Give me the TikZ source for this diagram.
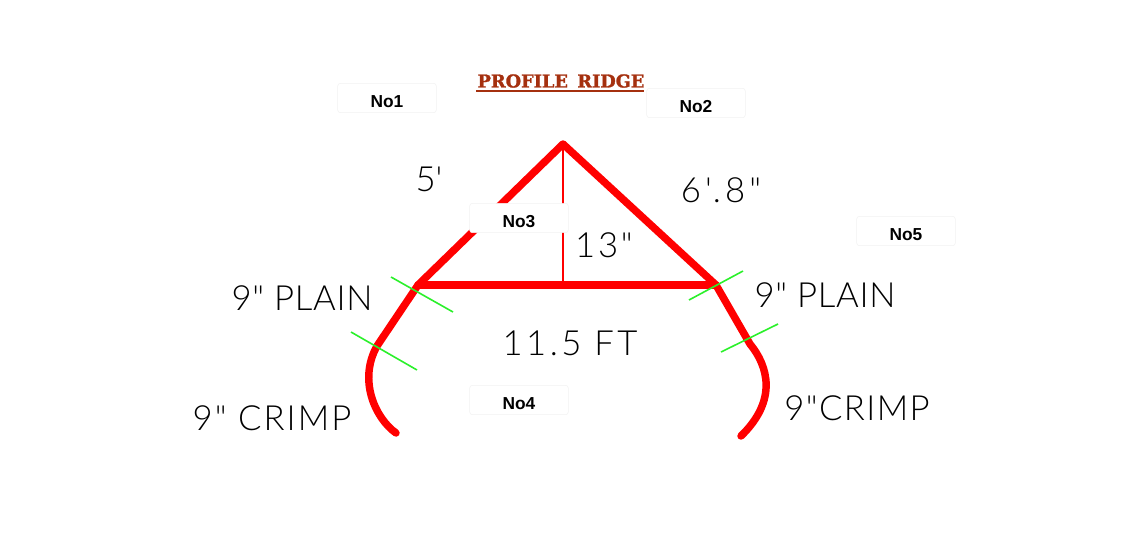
\documentclass[tikz,border=0pt]{standalone}
\usepackage{fontspec}
\setmainfont{Liberation Sans}
\newfontfamily\handfont{Lato Light}
\newfontfamily\titlefont[FakeBold=1.5]{DejaVu Serif Bold}
\definecolor{titlebrown}{HTML}{A5300F}
\definecolor{tickgreen}{HTML}{2BF02B}
\tikzset{
	profile/.style = {draw=red, line width=5.6pt, line cap=round, line join=round},
	brace/.style   = {draw=red, line width=1.3pt},
	tick/.style    = {draw=tickgreen, line width=1.2pt},
	nobox/.style   = {draw=black!5, fill=white, rounded corners=2pt, minimum width=74pt, minimum height=22pt, inner sep=0pt, text height=13.5pt, text depth=0pt, font=\fontsize{13}{14}\selectfont\bfseries},
	dim/.style     = {font=\fontsize{26}{28}\selectfont\handfont, text=black, inner sep=0pt},
	spaced/.style  = {execute at begin node=\addfontfeature{LetterSpace=#1}}
}
\begin{document}
\begin{tikzpicture}[x=0.75pt, y=-0.75pt]
	\useasboundingbox (0,0) rectangle (1138,544);
	% profile points
	\coordinate (apex)   at (563,144);
	\coordinate (baseL)  at (418,285);
	\coordinate (baseR)  at (716,285);
	\coordinate (baseM)  at (563,285);
	\coordinate (lowL)   at (377,346);
	\coordinate (lowR)   at (750,344);
	\coordinate (endL)   at (396,433);
	\coordinate (endR)   at (741,436);
	\draw [brace]   (apex) -- (baseM);
	\draw [profile] (endL) .. controls (375,418) and (358,380) .. (lowL) -- (baseL) -- (apex) -- (baseR) -- (lowR) .. controls (768,366) and (778,400) .. (endR);
	\draw [profile] (baseL) -- (baseR);
	% ticks
	\coordinate (t1a) at (391,277); \coordinate (t1b) at (453,312);
	\coordinate (t2a) at (351,332); \coordinate (t2b) at (417,370);
	\coordinate (t3a) at (689,300); \coordinate (t3b) at (743,271);
	\coordinate (t4a) at (721,352); \coordinate (t4b) at (778,324);
	\draw [tick] (t1a) -- (t1b);
	\draw [tick] (t2a) -- (t2b);
	\draw [tick] (t3a) -- (t3b);
	\draw [tick] (t4a) -- (t4b);
	% title
	\node (title) [inner sep=0pt, text=titlebrown, font=\fontsize{13.3}{16}\selectfont\titlefont] at (561,81) {PROFILE\hspace{7pt}RIDGE};
	\draw [titlebrown, line width=0.9pt] (476,91) -- (644,91);
	% boxes
	\node (no1) [nobox] at (387,98)  {No1};
	\node (no2) [nobox] at (696,103) {No2};
	\node (no3) [nobox] at (519,218) {No3};
	\node (no4) [nobox] at (519,400) {No4};
	\node (no5) [nobox] at (906,231) {No5};
	% sizes
	\node (side1)  [dim] at (429,179) {5'};
	\node (side2)  [dim, spaced=12] at (721,190) {6'.8"};
	\node (rise)   [dim, spaced=8] at (604,245) {13"};
	\node (plainL) [dim, spaced=2] at (302,298) {9" PLAIN};
	\node (plainR) [dim, spaced=2] at (825,295) {9" PLAIN};
	\node (width)  [dim, spaced=10] at (570,343) {11.5 FT};
	\node (crimpL) [dim, spaced=6] at (272,418) {9" CRIMP};
	\node (crimpR) [dim, spaced=4] at (857,408) {9"CRIMP};
\end{tikzpicture}
\end{document}
